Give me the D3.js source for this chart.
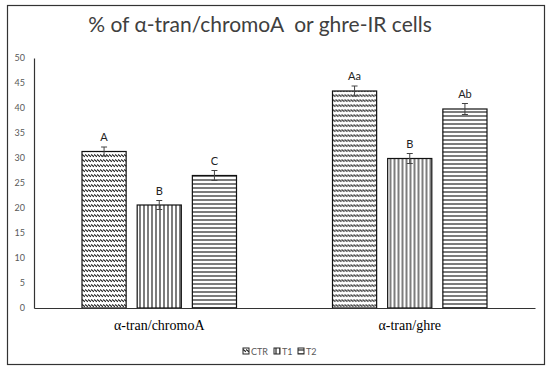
<!DOCTYPE html>
<html>
<head>
<meta charset="utf-8">
<script src="https://cdn.jsdelivr.net/npm/d3@7"></script>
<style>
  body { margin: 0; background: #fff; }
  svg { display: block; }
</style>
</head>
<body>
<div id="chart"></div>
<script>
// Data
const categories = ['α-tran/chromoA', 'α-tran/ghre'];
const series = ['CTR', 'T1', 'T2'];
const ctrValues = [31.3, 43.4];
const t1Values = [20.6, 29.9];
const t2Values = [26.5, 39.8];
const ctrErrors = [0.9, 1.0];
const t1Errors = [0.9, 1.0];
const t2Errors = [1.0, 1.1];
const letters = [['A', 'B', 'C'], ['Aa', 'B', 'Ab']];
const yTicks = [0, 5, 10, 15, 20, 25, 30, 35, 40, 45, 50];

const valuesBySeries = [ctrValues, t1Values, t2Values];
const errorsBySeries = [ctrErrors, t1Errors, t2Errors];

const width = 550, height = 370;
const margin = { top: 58, right: 15, bottom: 62, left: 34 };
const innerWidth = width - margin.left - margin.right;
const innerHeight = height - margin.top - margin.bottom;
const sansFont = 'Lato, "Open Sans", sans-serif';

const svg = d3.select('#chart')
    .append('svg')
    .attr('width', width)
    .attr('height', height);

// Patterns for each series
const defs = svg.append('defs');

const pCtr = defs.append('pattern')
    .attr('id', 'pat-CTR')
    .attr('patternUnits', 'userSpaceOnUse')
    .attr('width', 3).attr('height', 5);
pCtr.append('rect').attr('width', 3).attr('height', 5).attr('fill', '#fff');
pCtr.append('path')
    .attr('d', 'M0,1.5 L3,3.8')
    .attr('stroke', '#222').attr('stroke-width', 1.1);

const pT1 = defs.append('pattern')
    .attr('id', 'pat-T1')
    .attr('patternUnits', 'userSpaceOnUse')
    .attr('width', 4).attr('height', 4);
pT1.append('rect').attr('width', 4).attr('height', 4).attr('fill', '#fff');
pT1.append('line')
    .attr('x1', 2).attr('x2', 2).attr('y1', 0).attr('y2', 4)
    .attr('stroke', '#111').attr('stroke-width', 1.1);

const pT2 = defs.append('pattern')
    .attr('id', 'pat-T2')
    .attr('patternUnits', 'userSpaceOnUse')
    .attr('width', 4).attr('height', 4);
pT2.append('rect').attr('width', 4).attr('height', 4).attr('fill', '#fff');
pT2.append('line')
    .attr('x1', 0).attr('x2', 4).attr('y1', 2).attr('y2', 2)
    .attr('stroke', '#111').attr('stroke-width', 1.1);

// Outer frame
svg.append('rect')
    .attr('x', 7.5).attr('y', 5.5)
    .attr('width', 537).attr('height', 359)
    .attr('fill', 'none')
    .attr('stroke', '#333')
    .attr('stroke-width', 1.2);

// Title
svg.append('text')
    .attr('x', 260)
    .attr('y', 32)
    .attr('text-anchor', 'middle')
    .attr('font-family', sansFont)
    .attr('font-size', '21px')
    .attr('fill', '#404040')
    .style('white-space', 'pre')
    .text('% of α-tran/chromoA  or ghre-IR cells');

const g = svg.append('g')
    .attr('transform', `translate(${margin.left},${margin.top})`);

const x0 = d3.scaleBand()
    .domain(categories)
    .range([0, innerWidth])
    .paddingInner(0)
    .paddingOuter(0);

const x1 = d3.scaleBand()
    .domain(series)
    .range([48, x0.bandwidth() - 48])
    .paddingInner(0.2);

const y = d3.scaleLinear()
    .domain([0, 50])
    .range([innerHeight, 0]);

// Y axis
const yAxis = g.append('g')
    .attr('class', 'y-axis')
    .call(d3.axisLeft(y).tickValues(yTicks).tickSize(0).tickPadding(9));
yAxis.select('.domain').attr('stroke', '#333').attr('stroke-width', 1.2);
yAxis.selectAll('text')
    .attr('font-family', sansFont)
    .attr('font-size', '9px')
    .attr('fill', '#595959');

// Bars
const groups = g.selectAll('.cat')
    .data(categories)
    .join('g')
    .attr('class', 'cat')
    .attr('transform', d => `translate(${x0(d)},0)`);

groups.each(function (cat, ci) {
    const grp = d3.select(this);
    series.forEach((s, si) => {
        const v = valuesBySeries[si][ci];
        const e = errorsBySeries[si][ci];
        const bx = x1(s);
        const bw = x1.bandwidth();
        grp.append('rect')
            .attr('x', bx)
            .attr('y', y(v))
            .attr('width', bw)
            .attr('height', y(0) - y(v))
            .attr('fill', `url(#pat-${s})`)
            .attr('stroke', '#111')
            .attr('stroke-width', 1.2);
        // Error bar
        const cx = bx + bw / 2;
        grp.append('line')
            .attr('x1', cx).attr('x2', cx)
            .attr('y1', y(v - e)).attr('y2', y(v + e))
            .attr('stroke', '#444').attr('stroke-width', 1);
        grp.append('line')
            .attr('x1', cx - 3).attr('x2', cx + 3)
            .attr('y1', y(v + e)).attr('y2', y(v + e))
            .attr('stroke', '#444').attr('stroke-width', 1);
        grp.append('line')
            .attr('x1', cx - 3).attr('x2', cx + 3)
            .attr('y1', y(v - e)).attr('y2', y(v - e))
            .attr('stroke', '#444').attr('stroke-width', 1);
        // Significance letter
        grp.append('text')
            .attr('x', cx)
            .attr('y', y(v + e) - 6)
            .attr('text-anchor', 'middle')
            .attr('font-family', sansFont)
            .attr('font-size', '11px')
            .attr('fill', '#222')
            .text(letters[ci][si]);
    });
});

// X axis
const xAxis = g.append('g')
    .attr('class', 'x-axis')
    .attr('transform', `translate(0,${innerHeight})`)
    .call(d3.axisBottom(x0).tickSize(0).tickPadding(12));
xAxis.select('.domain').attr('stroke', '#333').attr('stroke-width', 1.2);
xAxis.selectAll('text')
    .attr('font-family', '"Liberation Serif", "Times New Roman", serif')
    .attr('font-size', '14px')
    .attr('fill', '#000');

// Legend
const legendX = [243, 274, 298];
const legend = svg.append('g').attr('class', 'legend');
series.forEach((s, i) => {
    const lg = legend.append('g').attr('transform', `translate(${legendX[i]},348)`);
    lg.append('rect')
        .attr('width', 6).attr('height', 6)
        .attr('fill', `url(#pat-${s})`)
        .attr('stroke', '#222').attr('stroke-width', 1);
    lg.append('text')
        .attr('x', 8).attr('y', 6.5)
        .attr('font-family', sansFont)
        .attr('font-size', '9px')
        .attr('fill', '#595959')
        .text(s);
});
</script>
</body>
</html>
